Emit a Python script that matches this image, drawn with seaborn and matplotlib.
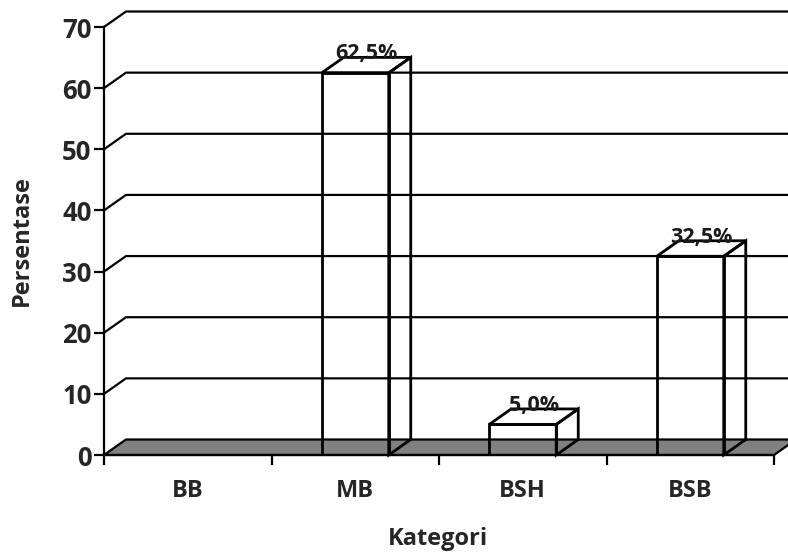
import matplotlib
matplotlib.use("Agg")
import matplotlib.pyplot as plt
import seaborn as sns
import pandas as pd
from matplotlib.patches import Polygon
from matplotlib.lines import Line2D

categories = ["BB", "MB", "BSH", "BSB"]
values = [0.0, 62.5, 5.0, 32.5]
y_ticks = [0, 10, 20, 30, 40, 50, 60, 70]

sns.set_theme(style="white")
plt.rcParams['font.family'] = ['Open Sans', 'DejaVu Sans']
plt.rcParams['font.weight'] = 'bold'

W, H = 788, 553
fig = plt.figure(figsize=(W / 100, H / 100), dpi=100)
L, R, B, T = 104, 774, 455, 27
ax = fig.add_axes([L / W, 1 - B / H, (R - L) / W, (B - T) / H])

df = pd.DataFrame({"Kategori": categories, "Persentase": values})
bw = 0.4
sns.barplot(data=df, x="Kategori", y="Persentase", width=bw, ax=ax,
            facecolor="none", edgecolor="black", linewidth=2.0, zorder=5)

xmin, xmax = -0.5, len(categories) - 0.5
ymax = y_ticks[-1]
ax.set_xlim(xmin, xmax)
ax.set_ylim(0, ymax)

# depth offset (pixels -> data)
dx = 22 / (R - L) * (xmax - xmin)
dy = 15.5 / (B - T) * ymax

# back wall gridlines with slanted connectors
for v in y_ticks[1:]:
    ax.add_line(Line2D([xmin, xmin + dx, xmax + dx + 0.2], [v, v + dy, v + dy],
                       color="black", lw=1.6, clip_on=False, zorder=1))

# floor
floor = Polygon([(xmin, 0), (xmax, 0), (xmax + dx, dy), (xmin + dx, dy)],
                closed=True, facecolor="#808080", edgecolor="black", lw=1.6,
                clip_on=False, zorder=2)
ax.add_patch(floor)

# bar 3D faces
for i, v in enumerate(values):
    if v <= 0:
        continue
    x0, x1 = i - bw / 2, i + bw / 2
    top = Polygon([(x0, v), (x1, v), (x1 + dx, v + dy), (x0 + dx, v + dy)],
                  closed=True, facecolor="none", edgecolor="black", lw=2.0,
                  clip_on=False, zorder=6)
    side = Polygon([(x1, 0), (x1, v), (x1 + dx, v + dy), (x1 + dx, dy)],
                   closed=True, facecolor="none", edgecolor="black", lw=2.0,
                   clip_on=False, zorder=6)
    ax.add_patch(top)
    ax.add_patch(side)
    lab = f"{v:.1f}".replace(".", ",") + "%"
    ax.text(i + dx / 2, v + dy + 0.55, lab, ha="center", va="center",
            fontsize=15.5, fontweight="bold", color="#1a1a1a", zorder=7)

# axes styling
for s in ["top", "right"]:
    ax.spines[s].set_visible(False)
ax.spines["left"].set_linewidth(1.6)
ax.spines["left"].set_color("black")
ax.spines["bottom"].set_linewidth(1.6)
ax.spines["bottom"].set_color("black")
ax.spines["left"].set_zorder(8)

ax.set_yticks(y_ticks)
ax.set_yticklabels([str(t) for t in y_ticks], fontsize=18.5, fontweight="bold")
ax.tick_params(axis="y", length=7, width=1.6, color="black", pad=2, left=True)

ax.set_xticks(range(len(categories)))
ax.set_xticklabels(categories, fontsize=17, fontweight="bold")
ax.set_xticks([xmin + k for k in range(len(categories) + 1)], minor=True)
ax.tick_params(axis="x", which="major", length=0, pad=17)
ax.tick_params(axis="x", which="minor", length=7, width=1.6, color="black", bottom=True)

ax.set_xlabel("")
ax.set_ylabel("")
fig.text(438 / W, 1 - 539 / H, "Kategori", ha="center", va="center",
         fontsize=17, fontweight="bold")
fig.text(22 / W, 1 - 241 / H, "Persentase", ha="center", va="center",
         rotation=90, fontsize=17, fontweight="bold")

fig.savefig("out.png", dpi=100, facecolor="white")
